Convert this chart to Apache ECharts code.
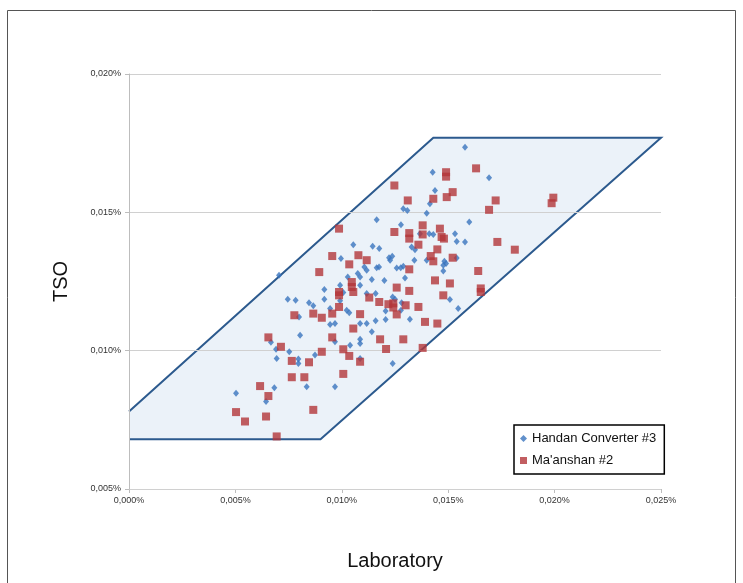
<!DOCTYPE html>
<html>
<head>
<meta charset="utf-8">
<script src="https://cdn.jsdelivr.net/npm/echarts@6/dist/echarts.min.js"></script>
<style>
html,body{margin:0;padding:0;background:#fff;}
#c{width:743px;height:583px;}
</style>
</head>
<body>
<div id="c"></div>
<script>
// Values in percent
const xTicks = [0, 0.005, 0.010, 0.015, 0.020, 0.025];
const yTicks = [0.005, 0.010, 0.015, 0.020];

// Tolerance band (parallelogram) vertices
const bandX = [0, 0.0090, 0.0250, 0.0143, 0];
const bandY = [0.0068, 0.0068, 0.0177, 0.0177, 0.0078];

const handanName = 'Handan Converter #3';
const handanX = [
0.01579,0.01427,0.01692,0.01438,0.01414,0.01289,0.01308,0.01399,0.01164,0.01599,
0.01278,0.01367,0.01411,0.01430,0.01532,0.01540,0.01579,0.01054,0.01145,0.01176,
0.01328,0.01344,0.00996,0.01222,0.01237,0.01227,0.01341,0.01399,0.01482,0.01490,
0.01477,0.01540,0.00705,0.01106,0.01117,0.01164,0.01175,0.01258,0.01277,0.01289,
0.01477,0.01075,0.01086,0.01028,0.01141,0.01200,0.01297,0.00992,0.01086,0.00918,
0.01117,0.01159,0.01239,0.01250,0.01007,0.00746,0.00783,0.00846,0.00866,0.00918,
0.00992,0.01281,0.01508,0.01023,0.01035,0.01206,0.01278,0.00945,0.00799,0.01547,
0.00945,0.00968,0.01117,0.01086,0.01159,0.01206,0.01320,0.00804,0.00667,0.00968,
0.01039,0.01086,0.01086,0.01141,0.00691,0.00694,0.00753,0.00796,0.00796,0.00874,
0.01086,0.00683,0.00835,0.00968,0.00503,0.00644,0.01239];
const handanY = [
0.01735,0.01645,0.01625,0.01579,0.01531,0.01513,0.01507,0.01497,0.01473,0.01465,
0.01455,0.01423,0.01423,0.01420,0.01423,0.01395,0.01393,0.01383,0.01377,0.01369,
0.01375,0.01365,0.01333,0.01336,0.01341,0.01327,0.01327,0.01327,0.01323,0.01315,
0.01309,0.01335,0.01273,0.01302,0.01291,0.01300,0.01302,0.01299,0.01300,0.01305,
0.01288,0.01279,0.01266,0.01266,0.01257,0.01254,0.01263,0.01236,0.01236,0.01221,
0.01207,0.01207,0.01194,0.01186,0.01210,0.01186,0.01182,0.01173,0.01162,0.01186,
0.01180,0.01173,0.01185,0.01146,0.01137,0.01143,0.01146,0.01152,0.01122,0.01152,
0.01095,0.01098,0.01098,0.01098,0.01108,0.01113,0.01114,0.01056,0.01030,0.01032,
0.01020,0.01041,0.01026,0.01068,0.01005,0.00972,0.00996,0.00970,0.00954,0.00984,
0.00972,0.00866,0.00870,0.00870,0.00846,0.00816,0.00954];

const maanshanName = "Ma'anshan #2";
const maanshanX = [
0.01631,0.01490,0.01490,0.01247,0.01310,0.01430,0.01493,0.01521,0.01723,0.01692,
0.01994,0.01986,0.00987,0.01247,0.01317,0.01317,0.01380,0.01380,0.01461,0.01469,
0.01480,0.01360,0.01449,0.01418,0.01430,0.01521,0.01731,0.01813,0.00955,0.01078,
0.01117,0.01035,0.00894,0.01317,0.01641,0.01047,0.01047,0.01054,0.00987,0.00987,
0.01258,0.01317,0.01438,0.01508,0.01653,0.01653,0.01129,0.01176,0.01219,0.01242,
0.01242,0.01300,0.01360,0.00987,0.01477,0.00777,0.00866,0.00906,0.00955,0.01086,
0.01258,0.01391,0.01449,0.01054,0.00655,0.00714,0.00906,0.00955,0.01007,0.01035,
0.01086,0.00765,0.00846,0.00765,0.00824,0.01007,0.00616,0.00655,0.00866,0.00503,
0.00545,0.00644,0.00694,0.01180,0.01289,0.01208,0.01380];
const maanshanY = [
0.01659,0.01645,0.01629,0.01597,0.01543,0.01549,0.01555,0.01573,0.01543,0.01509,
0.01553,0.01533,0.01441,0.01429,0.01425,0.01405,0.01453,0.01420,0.01441,0.01411,
0.01405,0.01383,0.01366,0.01342,0.01323,0.01336,0.01393,0.01365,0.01342,0.01345,
0.01327,0.01312,0.01284,0.01294,0.01288,0.01248,0.01230,0.01212,0.01212,0.01200,
0.01228,0.01216,0.01254,0.01243,0.01225,0.01212,0.01192,0.01176,0.01168,0.01171,
0.01156,0.01164,0.01158,0.01158,0.01200,0.01128,0.01134,0.01119,0.01134,0.01132,
0.01131,0.01104,0.01098,0.01080,0.01048,0.01014,0.00996,0.01048,0.01005,0.00981,
0.00960,0.00963,0.00958,0.00904,0.00904,0.00916,0.00872,0.00836,0.00786,0.00778,
0.00744,0.00762,0.00690,0.01041,0.01041,0.01006,0.01010];

const zip = (a, b) => a.map((v, i) => [v, b[i]]);
const fmt = v => v.toFixed(3).replace('.', ',') + '%';

const chart = echarts.init(document.getElementById('c'), null, {renderer: 'canvas'});
chart.setOption({
  animation: false,
  backgroundColor: '#fff',
  grid: {left: 129, right: 82, top: 74, bottom: 94, containLabel: false},
  graphic: [
    {type: 'polyline', z: 100, silent: true,
     shape: {points: [[7.5, 600], [7.5, 10.5], [735.5, 10.5], [735.5, 600]]},
     style: {stroke: '#555', lineWidth: 1, fill: null}}
  ],
  legend: {
    orient: 'vertical',
    left: 514, top: 425,
    padding: [7, 8, 7, 6],
    itemGap: 9,
    itemWidth: 7, itemHeight: 7,
    borderColor: '#000', borderWidth: 1.5,
    backgroundColor: '#fff',
    textStyle: {fontFamily: 'Liberation Sans', fontSize: 13, color: '#111'},
    data: [{name: handanName, icon: 'diamond'}, {name: maanshanName, icon: 'rect'}]
  },
  xAxis: {
    type: 'value', min: 0, max: 0.025, interval: 0.005,
    name: 'Laboratory', nameLocation: 'middle', nameGap: 62,
    nameTextStyle: {fontFamily: 'Liberation Sans', fontSize: 20, color: '#111'},
    axisLine: {show: true, lineStyle: {color: '#BDBDBD', width: 1}},
    axisTick: {show: true, length: 4, inside: false, lineStyle: {color: '#BDBDBD'}},
    axisLabel: {formatter: fmt, fontFamily: 'Liberation Sans', fontSize: 9, color: '#333', margin: 7},
    splitLine: {show: false}
  },
  yAxis: {
    type: 'value', min: 0.005, max: 0.020, interval: 0.005, z: 3,
    name: 'TSO', nameLocation: 'middle', nameGap: 58, nameRotate: 90,
    nameTextStyle: {fontFamily: 'Liberation Sans', fontSize: 20, color: '#111'},
    axisLine: {show: true, lineStyle: {color: '#BDBDBD', width: 1}},
    axisTick: {show: true, length: 4, lineStyle: {color: '#BDBDBD'}},
    axisLabel: {formatter: fmt, fontFamily: 'Liberation Sans', fontSize: 9, color: '#333', margin: 8},
    splitLine: {show: true, lineStyle: {color: '#D0D0D0', width: 1}}
  },
  series: [
    {
      type: 'custom', name: 'band', silent: true, z: 1,
      data: [[0]],
      renderItem: function (params, api) {
        const pts = bandX.map((x, i) => api.coord([x, bandY[i]]));
        return {
          type: 'group',
          children: [
            {type: 'polygon', shape: {points: pts}, style: {fill: '#EBF2F9', stroke: null}},
            {type: 'polyline', shape: {points: pts}, style: {fill: null, stroke: '#2C5A8E', lineWidth: 2}}
          ]
        };
      }
    },
    {
      type: 'scatter', name: handanName, z: 4,
      symbol: 'diamond', symbolSize: [6, 7],
      itemStyle: {color: '#3A74BE'},
      data: zip(handanX, handanY)
    },
    {
      type: 'scatter', name: maanshanName, z: 5,
      symbol: 'rect', symbolSize: 8,
      itemStyle: {color: '#B3363A'},
      data: zip(maanshanX, maanshanY)
    }
  ]
});
</script>
</body>
</html>
